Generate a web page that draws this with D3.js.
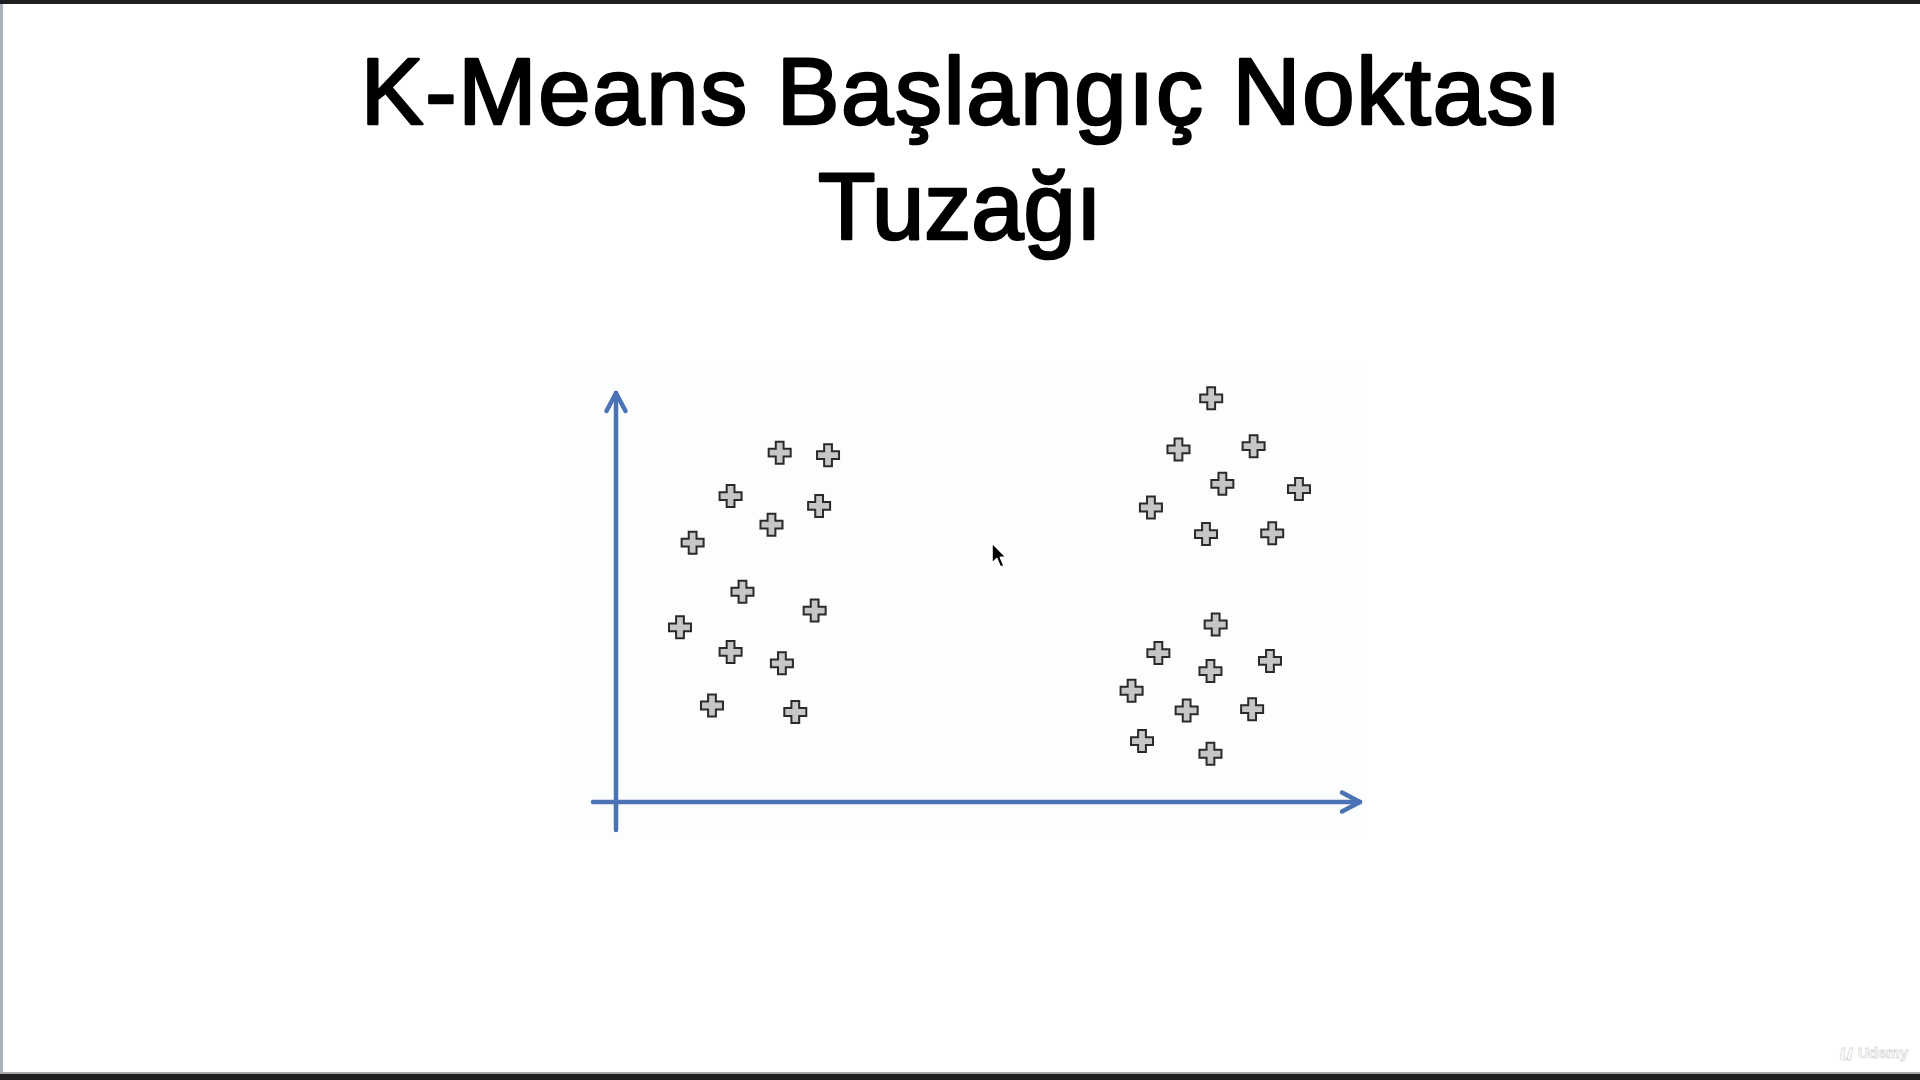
<!DOCTYPE html>
<html>
<head>
<meta charset="utf-8">
<script src="https://cdn.jsdelivr.net/npm/d3@7"></script>
<style>
  html, body { margin: 0; padding: 0; background: #fff; }
  svg { display: block; }
</style>
</head>
<body>
<div id="chart"></div>
<script>
// k-means starting point trap slide

const titleLines = ["K-Means Başlangıç Noktası", "Tuzağı"];

// two clusters on the left, two on the right (values 0..100 on each axis)
const leftX  = [22.0, 28.5, 15.4, 27.3, 20.9, 10.3, 17.0, 26.7, 8.6, 15.4, 22.3, 12.9, 24.1];
const leftY  = [85.4, 84.8, 74.8, 72.4, 67.8, 63.4, 51.4, 46.8, 42.7, 36.7, 33.9, 23.6, 22.0];
const rightX = [80.0, 75.6, 85.7, 81.5, 91.8, 71.9, 79.3, 88.2, 80.6, 72.9, 87.9, 79.9, 69.3, 76.7, 85.5, 70.7, 79.9];
const rightY = [98.7, 86.2, 87.0, 77.8, 76.5, 72.0, 65.5, 65.7, 43.4, 36.4, 34.5, 32.0, 27.2, 22.4, 22.7, 14.9, 11.8];

const width = 1920, height = 1080;

const svg = d3.select("#chart").append("svg")
    .attr("width", width)
    .attr("height", height)
    .attr("viewBox", [0, 0, width, height]);

// slide frame
svg.append("rect").attr("width", width).attr("height", height).attr("fill", "#fff");
svg.append("rect").attr("x", 0).attr("y", 0).attr("width", width).attr("height", 4).attr("fill", "#1e1f21");
svg.append("rect").attr("x", 0).attr("y", 1072).attr("width", width).attr("height", 2).attr("fill", "#a7a9ab");
svg.append("rect").attr("x", 0).attr("y", 1074).attr("width", width).attr("height", 6).attr("fill", "#1e1f21");
svg.append("rect").attr("x", 0).attr("y", 4).attr("width", 3).attr("height", 1068).attr("fill", "#aab2bb");

// title (first line is a touch wider in the original font)
svg.selectAll("text.title")
    .data(titleLines)
    .enter()
    .append("text")
    .attr("class", "title")
    .attr("x", (d, i) => i == 0 ? 962 : 960)
    .attr("y", (d, i) => 124 + i * 115)
    .attr("text-anchor", "middle")
    .attr("font-family", "'Liberation Sans', Arial, Helvetica, sans-serif")
    .attr("font-size", 94)
    .attr("letter-spacing", (d, i) => i == 0 ? "1.7px" : "0px")
    .attr("fill", "#000")
    .attr("stroke", "#000")
    .attr("stroke-width", 2.6)
    .attr("stroke-linejoin", "round")
    .text(d => d);

// pasted picture background (very faint)
svg.append("rect")
    .attr("x", 560).attr("y", 362)
    .attr("width", 806).attr("height", 478)
    .attr("fill", "#fcfdfd");

const x = d3.scaleLinear().domain([0, 100]).range([616, 1360]);
const y = d3.scaleLinear().domain([0, 100]).range([802, 393]);

const axisColor = "#4b72b4";

const axes = svg.append("g")
    .attr("stroke", axisColor)
    .attr("stroke-width", 4.5)
    .attr("stroke-linecap", "round")
    .attr("stroke-linejoin", "round")
    .attr("fill", "none");

// y axis, a bit past the origin
axes.append("line")
    .attr("x1", x(0)).attr("x2", x(0))
    .attr("y1", y(0) + 28).attr("y2", y(100));
axes.append("path")
    .attr("d", `M${x(0) - 9.5},${y(100) + 18} L${x(0)},${y(100)} L${x(0) + 9.5},${y(100) + 18}`);

// x axis
axes.append("line")
    .attr("x1", x(0) - 23).attr("x2", x(100))
    .attr("y1", y(0)).attr("y2", y(0));
axes.append("path")
    .attr("d", `M${x(100) - 18},${y(0) - 9.5} L${x(100)},${y(0)} L${x(100) - 18},${y(0) + 9.5}`);

const points = leftX.map((v, i) => ({x: v, y: leftY[i]}))
    .concat(rightX.map((v, i) => ({x: v, y: rightY[i]})));

// plus shaped marker
const L = 11, A = 3.9;
const plusPath = `M${-A},${-L} H${A} V${-A} H${L} V${A} H${A} V${L} H${-A} V${A} H${-L} V${-A} H${-A} Z`;

svg.append("g")
    .selectAll("path.pt")
    .data(points)
    .enter()
    .append("path")
    .attr("class", "pt")
    .attr("transform", d => `translate(${x(d.x)},${y(d.y)})`)
    .attr("d", plusPath)
    .attr("fill", "#c6c6c6")
    .attr("stroke", "#2a2a2a")
    .attr("stroke-width", 2)
    .attr("stroke-linejoin", "miter");

// mouse pointer left on the slide
svg.append("path")
    .attr("transform", "translate(992,543) scale(1.2)")
    .attr("d", "M0,0 L0,17 L4,13 L7,20 L10,19 L7,12 L12,12 Z")
    .attr("fill", "#000")
    .attr("stroke", "#fff")
    .attr("stroke-width", 1.3)
    .attr("stroke-linejoin", "round");

// watermark
svg.append("text")
    .attr("x", 1908).attr("y", 1058)
    .attr("text-anchor", "end")
    .attr("font-family", "'Liberation Sans', Arial, sans-serif")
    .attr("font-weight", "bold")
    .attr("font-size", 15)
    .attr("fill", "#ffffff")
    .attr("stroke", "#d8d8d8")
    .attr("stroke-width", 0.8)
    .text("Udemy");
svg.append("text")
    .attr("x", 1853).attr("y", 1060)
    .attr("text-anchor", "end")
    .attr("font-family", "'Liberation Sans', Arial, sans-serif")
    .attr("font-weight", "bold")
    .attr("font-style", "italic")
    .attr("font-size", 22)
    .attr("fill", "#ffffff")
    .attr("stroke", "#d8d8d8")
    .attr("stroke-width", 0.8)
    .text("u");
</script>
</body>
</html>
